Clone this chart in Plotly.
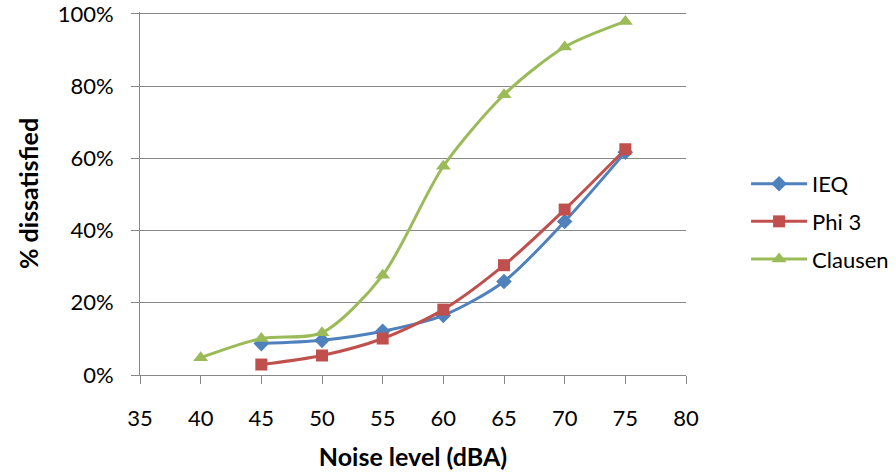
import plotly.graph_objects as go

noise_ieq = [45, 50, 55, 60, 65, 70, 75]
ieq = [0.087, 0.096, 0.121, 0.165, 0.259, 0.425, 0.617]

noise_phi = [45, 50, 55, 60, 65, 70, 75]
phi3 = [0.029, 0.054, 0.101, 0.181, 0.304, 0.458, 0.625]

noise_clausen = [40, 45, 50, 55, 60, 65, 70, 75]
clausen = [0.048, 0.101, 0.117, 0.276, 0.578, 0.776, 0.908, 0.979]

x_ticks = [35, 40, 45, 50, 55, 60, 65, 70, 75, 80]
y_ticks = [0, 0.2, 0.4, 0.6, 0.8, 1.0]

FONT = "Lato, 'Open Sans', sans-serif"

fig = go.Figure()
series = [
    ("IEQ", noise_ieq, ieq, "#4F81BD", "diamond", 12),
    ("Phi 3", noise_phi, phi3, "#C0504D", "square", 12),
    ("Clausen", noise_clausen, clausen, "#9BBB59", "triangle-up", 13),
]
for name, xs, ys, color, sym, size in series:
    fig.add_trace(go.Scatter(
        x=xs, y=ys, name=name, mode="lines+markers",
        line=dict(color=color, width=3, shape="spline", smoothing=0.8),
        marker=dict(symbol=sym, size=size, color=color),
        legendgroup=name,
    ))

fig.update_layout(
    width=896, height=474,
    margin=dict(l=140, r=210, t=12, b=99, autoexpand=False),
    paper_bgcolor="white", plot_bgcolor="white",
    font=dict(family=FONT, size=22, color="#000000"),
    legend=dict(x=1.11, y=0.423, xanchor="left", yanchor="middle",
                font=dict(size=22), tracegroupgap=6, itemwidth=56,
                bgcolor="rgba(0,0,0,0)"),
    xaxis=dict(
        range=[35, 80.0001], tickvals=x_ticks, showgrid=False, zeroline=False,
        showline=True, linecolor="#878787", linewidth=1, automargin=False,
        ticks="outside", ticklen=8, tickcolor="#878787", ticklabelstandoff=16,
        ticklabeloverflow="allow",
        title=dict(text="<b>Noise level (dBA)</b>", font=dict(size=25), standoff=18),
    ),
    yaxis=dict(
        range=[0, 1.005], tickvals=y_ticks, tickformat=".0%", automargin=False,
        showgrid=True, gridcolor="#878787", gridwidth=1, zeroline=False,
        showline=True, linecolor="#878787", linewidth=1,
        ticks="outside", ticklen=8, tickcolor="#878787", ticklabelstandoff=13,
        ticklabeloverflow="allow",
        title=dict(text="<b>% dissatisfied</b>", font=dict(size=25), standoff=11),
    ),
)

fig.write_html("out.html")
